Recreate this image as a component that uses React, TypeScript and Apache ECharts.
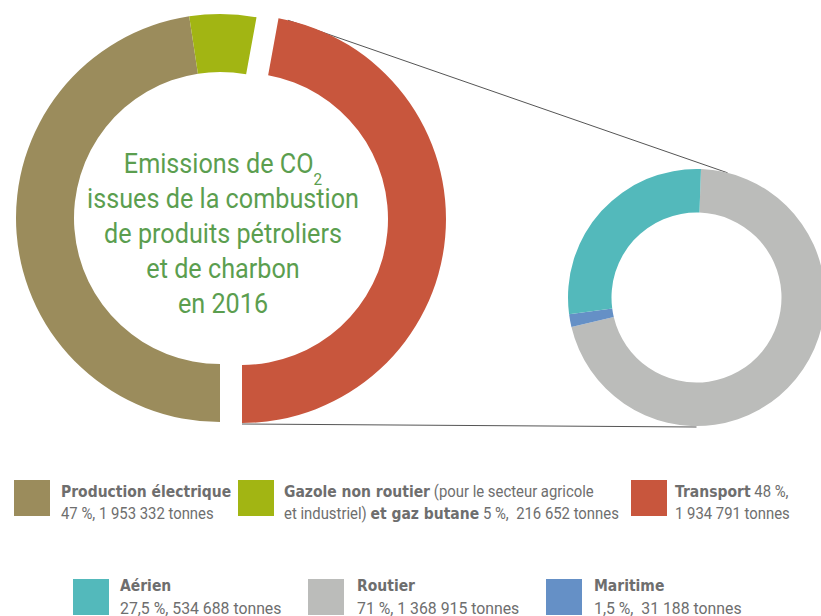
import React, { useEffect, useRef } from "react";
import * as echarts from "echarts";

// ---------- Data ----------
const mainNames = ["Production électrique", "Gazole non routier et gaz butane", "Transport"];
const mainPercents = [47, 5, 48];
const mainTonnes = [1953332, 216652, 1934791];
const mainColors = ["#9b8c5c", "#a2b513", "#c8563d"];

const transportNames = ["Aérien", "Routier", "Maritime"];
const transportPercents = [27.5, 71, 1.5];
const transportTonnes = [534688, 1368915, 31188];
const transportColors = ["#53b9bb", "#bbbcba", "#6590c6"];

const titleLines = ["Emissions de CO", "issues de la combustion", "de produits pétroliers", "et de charbon", "en 2016"];

// ---------- helpers ----------
const fmtT = (n: number) => String(n).replace(/\B(?=(\d{3})+(?!\d))/g, " ") + " tonnes";
const fmtP = (p: number) => String(p).replace(".", ",") + " %";
const FONT = "Roboto, 'Noto Sans', sans-serif";
const BOLD_FONT = "'DejaVu Sans', Roboto, sans-serif";
const TXT = "#6e6e6e";
const GREEN = "#5b9e4f";
const LEG_SCALE = 0.93;
const TITLE_SCALE = 0.9;

// geometry
const LEFT_C = [220, 218];
const RIGHT_C = [242, 219];
const R_OUT = 204;
const R_IN = 146;
const SMALL_C = [696.5, 297.5];
const S_OUT = 128.5;
const S_IN = 85;

const totalMain = mainTonnes.reduce((a, b) => a + b, 0);
const transportSweep = (mainTonnes[2] / totalMain) * 360;
const bigStartAngle = 90 - (180 - transportSweep);

const polar = (c: number[], r: number, degCwFromTop: number) => {
  const a = (degCwFromTop * Math.PI) / 180;
  return [c[0] + r * Math.sin(a), c[1] - r * Math.cos(a)];
};

export default function App() {
  const ref = useRef<HTMLDivElement>(null);
  useEffect(() => {
    if (!ref.current) return;
    const chart = echarts.init(ref.current, null, { renderer: "svg" });

    // order: Transport, Production, Gazole (clockwise)
    const order = [2, 0, 1];
    const leftData = order.map((i) => ({
      name: mainNames[i],
      value: mainTonnes[i],
      itemStyle: { color: i === 2 ? "rgba(0,0,0,0)" : mainColors[i] },
    }));
    const rightData = order.map((i) => ({
      name: mainNames[i],
      value: mainTonnes[i],
      itemStyle: { color: i === 2 ? mainColors[i] : "rgba(0,0,0,0)" },
    }));
    // small donut: Routier, Maritime, Aérien clockwise from near top
    const sOrder = [1, 2, 0];
    const smallData = sOrder.map((i) => ({
      name: transportNames[i],
      value: transportTonnes[i],
      itemStyle: { color: transportColors[i] },
    }));
    const smallStart = 88;

    const pieBase = {
      type: "pie",
      label: { show: false },
      labelLine: { show: false },
      silent: true,
      emphasis: { disabled: true },
      itemStyle: { borderWidth: 0 },
      clockwise: true,
    };

    const lineTopA = polar(RIGHT_C, R_OUT, 13);
    const lineTopB = polar(SMALL_C, S_OUT, 14);
    const lineBotA = polar(RIGHT_C, R_OUT, 180);
    const lineBotB = polar(SMALL_C, S_OUT, 180);

    const makeRich = (regSize: number) => ({
      b: { fontFamily: BOLD_FONT, fontSize: 15, fontWeight: "bold", fill: TXT, lineHeight: 22 },
      r: { fontFamily: FONT, fontSize: regSize, fill: TXT, lineHeight: 22 },
    });

    const legendItems = [
      {
        x: 14, y: 480, tx: 61, dy: 23, reg: 16,
        color: mainColors[0],
        text: `{b|${mainNames[0]}}\n{r|${mainPercents[0]} %, ${fmtT(mainTonnes[0])}}`,
      },
      {
        x: 238, y: 480, tx: 284, dy: 23, reg: 16,
        color: mainColors[1],
        text: `{b|Gazole non routier}{r| (pour le secteur agricole}\n{r|et industriel) }{b|et gaz butane}{r| ${fmtP(mainPercents[1])},  ${fmtT(mainTonnes[1])}}`,
      },
      {
        x: 631, y: 480, tx: 675, dy: 23, reg: 16,
        color: mainColors[2],
        text: `{b|${mainNames[2]}}{r| ${fmtP(mainPercents[2])},}\n{r|${fmtT(mainTonnes[2])}}`,
      },
      {
        x: 73, y: 579, tx: 120, dy: 18, reg: 17,
        color: transportColors[0],
        text: `{b|${transportNames[0]}}\n{r|${fmtP(transportPercents[0])}, ${fmtT(transportTonnes[0])}}`,
      },
      {
        x: 308, y: 579, tx: 357, dy: 18, reg: 17,
        color: transportColors[1],
        text: `{b|${transportNames[1]}}\n{r|${fmtP(transportPercents[1])}, ${fmtT(transportTonnes[1])}}`,
      },
      {
        x: 546, y: 579, tx: 594, dy: 18, reg: 17,
        color: transportColors[2],
        text: `{b|${transportNames[2]}}\n{r|${fmtP(transportPercents[2])},  ${fmtT(transportTonnes[2])}}`,
      },
    ];

    const legendGraphics: any[] = [];
    legendItems.forEach((it) => {
      legendGraphics.push({
        type: "rect",
        shape: { x: it.x, y: it.y, width: 36, height: 36 },
        style: { fill: it.color },
        silent: true,
      });
      legendGraphics.push({
        type: "text",
        x: it.tx,
        y: it.y + it.dy,
        scaleX: LEG_SCALE,
        style: {
          text: it.text,
          rich: makeRich(it.reg),
          verticalAlign: "middle",
          align: "left",
        },
        silent: true,
      });
    });

    const titleText =
      `{a|${titleLines[0]}}{s|2}\n` + titleLines.slice(1).map((l) => `{a|${l}}`).join("\n");

    chart.setOption({
      animation: false,
      backgroundColor: "#ffffff",
      series: [
        { ...pieBase, center: LEFT_C, radius: [R_IN, R_OUT], startAngle: bigStartAngle, data: leftData },
        { ...pieBase, center: RIGHT_C, radius: [R_IN, R_OUT], startAngle: bigStartAngle, data: rightData },
        { ...pieBase, center: SMALL_C, radius: [S_IN, S_OUT], startAngle: smallStart, data: smallData },
      ],
      graphic: [
        {
          type: "line",
          shape: { x1: lineTopA[0], y1: lineTopA[1], x2: lineTopB[0], y2: lineTopB[1] },
          style: { stroke: "#555555", lineWidth: 1 },
          z: -1,
          silent: true,
        },
        {
          type: "line",
          shape: { x1: lineBotA[0], y1: lineBotA[1] + 1, x2: lineBotB[0], y2: lineBotB[1] + 1 },
          style: { stroke: "#555555", lineWidth: 1 },
          z: -1,
          silent: true,
        },
        {
          type: "text",
          x: 223,
          y: 234,
          scaleX: TITLE_SCALE,
          style: {
            text: titleText,
            align: "center",
            verticalAlign: "middle",
            rich: {
              a: { fontFamily: FONT, fontSize: 28, fill: GREEN, lineHeight: 35 },
              s: {
                fontFamily: FONT,
                fontSize: 17,
                fill: GREEN,
                verticalAlign: "bottom",
                padding: [0, 0, -6, 0],
              },
            },
          },
          silent: true,
        },
        ...legendGraphics,
      ],
    });
    return () => chart.dispose();
  }, []);

  return (
    <div
      ref={ref}
      style={{ position: "fixed", left: 0, top: 0, width: 821, height: 616, background: "#fff" }}
    />
  );
}
